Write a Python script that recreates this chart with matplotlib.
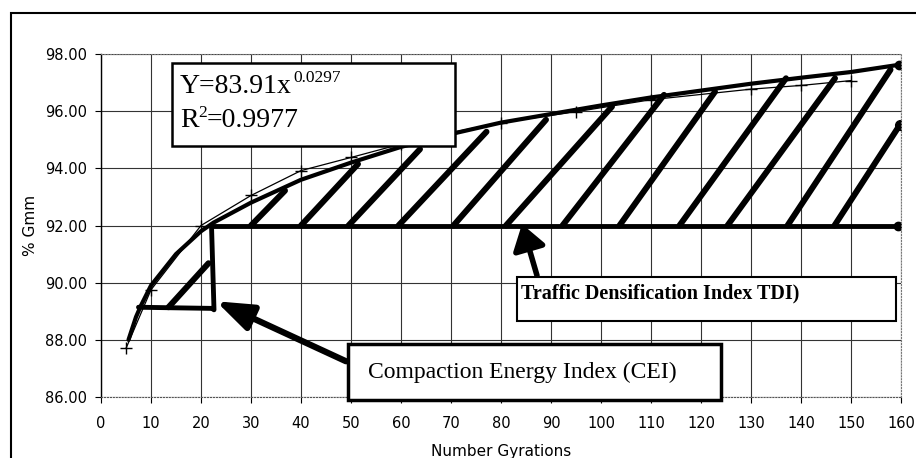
import matplotlib.pyplot as plt
from matplotlib.patches import Rectangle

# measured densification points (thin line with + markers)
gyr = [5, 10, 20, 30, 40, 50, 60, 70, 80, 95, 110, 130, 140, 150]
gmm = [87.7, 89.75, 92.0, 93.05, 93.92, 94.38, 94.85, 95.25, 95.6, 95.98, 96.4, 96.77, 96.9, 97.07]

# hand drawn fitted curve (thick)
curve_x = [5.5, 7, 8, 10, 15, 20, 22.5, 30, 40, 50, 60, 70, 80, 90, 100, 110, 120, 130, 140, 150, 159.5]
curve_y = [88.0, 88.8, 89.2, 89.9, 91.0, 91.8, 92.1, 92.8, 93.6, 94.2, 94.75, 95.2, 95.6, 95.9,
           96.2, 96.48, 96.72, 96.96, 97.17, 97.37, 97.62]

# TDI shading strokes: start on the 92% line, end near the curve
tdi_level = 92.0
hatch_x0 = [30, 40, 49.5, 59.5, 70.5, 81, 92.3, 103.7, 115.7, 125.3, 137.3, 146.7]
hatch_x1 = [36.8, 51.4, 63.8, 77.1, 89, 102.2, 112.6, 122.8, 137, 146.8, 157.9, 159.7]
hatch_y1 = [93.22, 94.15, 94.67, 95.28, 95.7, 96.16, 96.57, 96.68, 97.15, 97.15, 97.45, 95.5]

# CEI triangle outline
cei_x = [7.5, 22.2, 22.6, 22.1]
cei_y = [89.14, 89.1, 89.05, 92.0]
cei_hatch_x = [13.5, 21.5]
cei_hatch_y = [89.14, 90.68]

fig = plt.figure(figsize=(9.16, 4.58), dpi=100)
ax = fig.add_axes([101/916, 1-397/458, 800/916, 343/458])

ax.set_xlim(0, 160)
ax.set_ylim(86, 98)
ax.set_xticks(range(0, 161, 10))
ax.set_yticks(range(86, 99, 2))
ax.set_yticklabels(['%.2f' % v for v in range(86, 99, 2)])
ax.grid(True, color='#333333', lw=0.8)
ax.set_axisbelow(True)
for s in ['top', 'right']:
    ax.spines[s].set_color('#777777')
    ax.spines[s].set_linestyle(':')
    ax.spines[s].set_linewidth(0.8)
ax.spines['left'].set_linewidth(1.0)
ax.spines['bottom'].set_color('#555555')
ax.spines['bottom'].set_linestyle(':')
ax.tick_params(labelsize=10.5, length=4, width=0.8)
ax.tick_params(axis='x', pad=10)
ax.tick_params(axis='y', pad=6)
ax.set_xlabel('Number Gyrations', fontsize=11, labelpad=9)
ax.set_ylabel('% Gmm', fontsize=11, labelpad=5)

# data + fit
ax.plot(gyr, gmm, color='k', lw=0.9, marker='+', ms=8, mew=1.0)
ax.plot(curve_x, curve_y, color='k', lw=3.0, solid_capstyle='round')

# TDI area
ax.plot([22.1, 159.3], [tdi_level, tdi_level], color='k', lw=3.5, solid_capstyle='round')
ax.plot([159.3], [tdi_level], 'ko', ms=6)
for x0, x1, y1 in zip(hatch_x0, hatch_x1, hatch_y1):
    ax.plot([x0, x1], [tdi_level, y1], color='k', lw=4.3, solid_capstyle='round')
ax.plot([hatch_x1[-1]], [hatch_y1[-1]], 'ko', ms=7)
ax.plot([curve_x[-1]], [curve_y[-1]], 'ko', ms=6)

# CEI area
ax.plot(cei_x, cei_y, color='k', lw=3.5, solid_capstyle='round', solid_joinstyle='round')
ax.plot(cei_hatch_x, cei_hatch_y, color='k', lw=4.3, solid_capstyle='round')

# arrows
ax.annotate('', xy=(23.0, 89.35), xytext=(49.0, 87.25),
            arrowprops=dict(arrowstyle='-|>,head_length=1.1,head_width=0.4',
                            mutation_scale=20, lw=4.5, color='k', shrinkA=0, shrinkB=0))
ax.annotate('', xy=(84.2, 92.05), xytext=(87.2, 90.25),
            arrowprops=dict(arrowstyle='-|>,head_length=0.75,head_width=0.5',
                            mutation_scale=20, lw=4.0, color='k', shrinkA=0, shrinkB=0))

# text boxes
ax.add_patch(Rectangle((14.26, 94.79), 56.5, 2.88, fill=True, fc='white', ec='k', lw=1.8,
                       clip_on=False, zorder=5))
ax.text(15.8, 96.65, 'Y=83.91x', fontsize=20, family='Liberation Serif',
        va='baseline', zorder=6)
ax.text(38.4, 97.02, '0.0297', fontsize=12.5, family='Liberation Serif',
        va='baseline', zorder=6)
ax.text(15.8, 95.45, 'R', fontsize=20, family='Liberation Serif',
        va='baseline', zorder=6)
ax.text(19.5, 95.8, '2', fontsize=12.5, family='Liberation Serif',
        va='baseline', zorder=6)
ax.text(21.2, 95.45, '=0.9977', fontsize=20, family='Liberation Serif',
        va='baseline', zorder=6)
ax.add_patch(Rectangle((83.2, 88.67), 75.8, 1.52, fill=True, fc='white', ec='k', lw=1.5,
                       clip_on=False, zorder=5))
ax.text(84.0, 89.45, 'Traffic Densification Index TDI)', fontsize=14.5, family='Liberation Serif',
        fontweight='bold', va='baseline', zorder=6)
ax.add_patch(Rectangle((49.3, 85.9), 74.7, 1.96, fill=True, fc='white', ec='k', lw=2.5,
                       clip_on=False, zorder=5))
ax.text(53.4, 86.65, 'Compaction Energy Index (CEI)', fontsize=17, family='Liberation Serif',
        va='baseline', zorder=6)

# outer frame (cut off at right and bottom)
fig.patches.append(Rectangle((11/916, -0.2), 1.2, 1.2 - 13/458, transform=fig.transFigure,
                             fill=False, ec='k', lw=1.5))

fig.savefig('out.png', dpi=100)
